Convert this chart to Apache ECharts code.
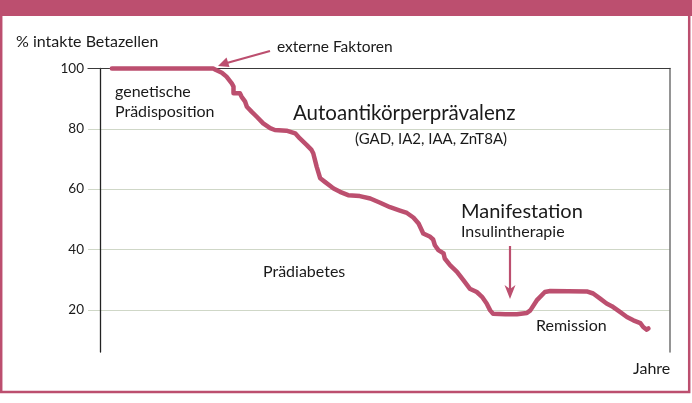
<!DOCTYPE html>
<html>
<head>
<meta charset="utf-8">
<script src="https://cdn.jsdelivr.net/npm/echarts@6/dist/echarts.min.js"></script>
<style>html,body{margin:0;padding:0;background:#fff;}#c{width:692px;height:403px;}</style>
</head>
<body>
<div id="c"></div>
<script>
// time (relative, 0-100) and % intact beta cells
const timeValues = [4.1, 21.5, 22.0, 23.0, 23.8, 24.7, 25.0, 25.0, 26.1, 26.4, 27.0, 27.3, 28.1, 29.0, 30.1, 31.3, 32.1, 34.1, 35.6, 36.4, 37.6, 38.4, 38.7, 39.3, 39.9, 40.7, 42.2, 43.3, 44.7, 46.7, 48.5, 50.2, 51.9, 53.6, 54.8, 55.9, 56.8, 57.6, 58.8, 59.3, 59.6, 60.2, 61.1, 61.3, 62.2, 63.4, 64.5, 65.6, 66.8, 67.7, 68.5, 69.1, 69.6, 71.7, 73.7, 75.4, 76.0, 77.1, 78.5, 79.4, 85.7, 86.8, 88.0, 89.1, 90.0, 91.4, 92.6, 93.7, 94.9, 95.4, 96.0, 96.3];
const betaCells = [100, 100, 99.5, 98.6, 97.3, 95.1, 94.0, 91.8, 91.8, 90.6, 89.0, 87.3, 85.7, 84.0, 81.8, 80.2, 79.6, 79.4, 78.5, 76.8, 74.6, 73.0, 71.9, 67.4, 63.6, 62.4, 60.2, 59.1, 58.0, 57.7, 56.9, 55.5, 54.0, 52.9, 52.1, 50.6, 48.6, 45.3, 44.2, 43.3, 41.4, 39.8, 38.7, 37.0, 34.8, 32.6, 29.8, 27.0, 25.9, 24.3, 22.1, 19.8, 18.7, 18.5, 18.5, 18.9, 19.8, 23.1, 25.9, 26.2, 26.1, 25.4, 23.7, 22.1, 21.2, 19.3, 17.6, 16.5, 15.6, 14.3, 13.4, 13.8];
const yTickLabels = [20, 40, 60, 80, 100];

const accent = '#bc4f6f';
const textColor = '#1a1a1a';
const font = 'Lato, "Noto Sans", sans-serif';

const chart = echarts.init(document.getElementById('c'), null, {renderer: 'canvas'});

function txt(x, y, s, size, extra) {
  return Object.assign({
    type: 'text', x: x, y: y, z: 50,
    style: {text: s, fill: textColor, font: size + 'px ' + font, verticalAlign: 'middle', align: 'left'}
  }, extra || {});
}

const option = {
  animation: false,
  backgroundColor: '#ffffff',
  grid: {left: 88, right: 22, top: 68.5, bottom: 51, containLabel: false},
  xAxis: {
    type: 'value', min: 0, max: 100, position: 'top',
    axisLine: {show: true, lineStyle: {color: '#3a3a3a', width: 1.2}},
    axisTick: {show: false}, axisLabel: {show: false}, splitLine: {show: false}
  },
  yAxis: [{
    type: 'value', min: 6, max: 100, position: 'left', offset: -12,
    axisLine: {show: true, lineStyle: {color: '#222', width: 1.3}},
    axisTick: {show: false, customValues: yTickLabels},
    axisLabel: {customValues: yTickLabels, margin: 16, color: textColor, fontSize: 13.5, fontFamily: font},
    splitLine: {show: true, lineStyle: {color: '#cfd7c7', width: 1.2}}
  }, {
    type: 'value', min: 6, max: 100, position: 'right',
    axisLine: {show: true, lineStyle: {color: '#7a7a7a', width: 1.6}},
    axisTick: {show: false}, axisLabel: {show: false}, splitLine: {show: false}
  }],
  series: [{
    type: 'line',
    data: timeValues.map((t, i) => [t, betaCells[i]]),
    showSymbol: false, symbol: 'none', smooth: false, clip: false,
    lineStyle: {color: accent, width: 4.5, join: 'round', cap: 'round'},
    z: 10
  }],
  graphic: [
    // frame
    {type: 'rect', z: 60, shape: {x: 1.2, y: 2, width: 688, height: 390}, style: {fill: 'none', stroke: accent, lineWidth: 2.5}},
    {type: 'rect', z: 60, shape: {x: 0, y: 0, width: 692, height: 16}, style: {fill: accent}},
    // texts
    txt(16, 42, '% intakte Betazellen', 16),
    txt(277, 47, 'externe Faktoren', 15.5),
    txt(115, 92, 'genetische', 16),
    txt(115, 112, 'Prädisposition', 16),
    txt(293, 113, 'Autoantikörperprävalenz', 20.5),
    txt(355, 139, '(GAD, IA2, IAA, ZnT8A)', 15),
    txt(461, 212, 'Manifestation', 20),
    txt(461, 232, 'Insulintherapie', 16),
    txt(263, 272, 'Prädiabetes', 16),
    txt(536, 326, 'Remission', 16),
    txt(633, 369, 'Jahre', 16),
    // arrow: externe Faktoren
    {type: 'line', z: 40, shape: {x1: 270, y1: 51, x2: 225, y2: 63.5}, style: {stroke: accent, lineWidth: 2.2}},
    {type: 'polygon', z: 40, shape: {points: [[218, 66], [229.5, 67], [226.5, 57.5]]}, style: {fill: accent}},
    // arrow: Manifestation
    {type: 'line', z: 40, shape: {x1: 510, y1: 246, x2: 510, y2: 290}, style: {stroke: accent, lineWidth: 2.2}},
    {type: 'polygon', z: 40, shape: {points: [[504.5, 285], [510, 289], [515.5, 285], [510, 299]]}, style: {fill: accent}}
  ]
};
chart.setOption(option);
</script>
</body>
</html>
